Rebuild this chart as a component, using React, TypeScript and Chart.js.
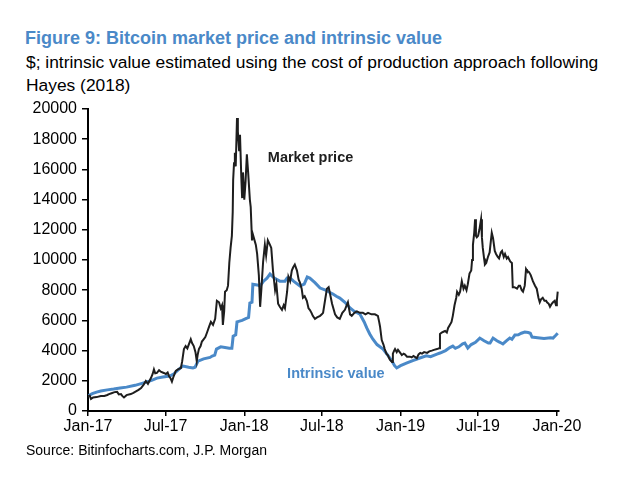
import React, { useEffect, useRef } from "react";
import { Chart, registerables } from "chart.js";

Chart.register(...registerables);

// x values are days since 1 Jan 2017
const tickDays = [0, 181, 365, 546, 730, 911, 1095];
const tickLabels = ["Jan-17", "Jul-17", "Jan-18", "Jul-18", "Jan-19", "Jul-19", "Jan-20"];

const priceDays = [
  0, 4, 7, 12, 20, 30, 38, 45, 49, 55, 62, 68, 72, 77, 80, 84, 90, 100, 106, 112, 118, 124, 130, 135, 140,
  147, 151, 154, 157, 161, 166, 170, 177, 182, 186, 189, 193, 196, 200, 205, 210, 217, 220, 224, 228, 232,
  240, 243, 247, 251, 254, 256, 259, 263, 266, 270, 274, 278, 283, 287, 292, 297, 301, 306, 310, 313, 315,
  318, 320, 324, 327, 330, 333, 336, 338, 339, 341, 343, 345, 348, 350, 353, 355, 358, 360, 362, 365, 368,
  371, 374, 378, 380, 383, 385, 388, 392, 395, 399, 402, 405, 409, 413, 416, 420, 425, 428, 432, 437, 440,
  444, 448, 453, 457, 460, 465, 468, 472, 476, 479, 483, 488, 492, 495, 499, 502, 506, 511, 515, 518, 522,
  525, 530, 535, 542, 546, 549, 554, 558, 562, 565, 570, 577, 582, 588, 594, 600, 604, 607, 612, 616, 622,
  628, 635, 642, 648, 654, 662, 670, 677, 680, 682, 686, 690, 693, 697, 700, 705, 710, 712, 715, 717, 721,
  724, 728, 733, 737, 740, 745, 752, 756, 760, 768, 772, 776, 780, 785, 792, 797, 803, 808, 815, 820, 822,
  826, 830, 834, 838, 841, 845, 849, 852, 856, 860, 862, 866, 869, 873, 877, 880, 884, 887, 891, 895, 897,
  899, 902, 904, 906, 908, 911, 914, 918, 920, 922, 925, 927, 930, 934, 938, 941, 943, 946, 950, 953, 957,
  960, 964, 967, 971, 974, 978, 981, 986, 990, 992, 996, 1002, 1006, 1009, 1013, 1016, 1020, 1023, 1025,
  1030, 1034, 1039, 1044, 1048, 1052, 1055, 1058, 1062, 1066, 1070, 1072, 1076, 1079, 1083, 1086, 1090,
  1093, 1095, 1097,
];
const priceValues = [
  990, 1020, 800, 900, 920, 990, 1000, 1060, 1120, 1180, 1250, 1270, 1100, 1120, 1000, 900, 1050, 1120, 1200,
  1300, 1400, 1520, 1750, 1990, 1800, 2180, 2450, 2750, 2500, 2520, 2700, 2600, 2520, 2450, 2550, 2320, 2150,
  1950, 2300, 2650, 2750, 2850, 3300, 4100, 4300, 4150, 4750, 4500, 4300, 3900, 3300, 3700, 4100, 4300, 4600,
  4750, 4900, 5200, 5600, 5900, 5700, 6100, 7300, 7200, 6800, 7000, 5700, 6600, 7900, 8000, 8300, 9800,
  10800, 11600, 13200, 15300, 16400, 17100, 16200, 19400, 18500, 17200, 18300, 15500, 14100, 15800, 14000,
  15200, 17000, 15800, 14000, 13500, 11300, 11700, 11400, 11000, 10400, 9000, 6900, 8100, 9900, 11000, 10300,
  11300, 11000, 10800, 9300, 8000, 8400, 7100, 6900, 6700, 7000, 6800, 7900, 8900, 8600, 9300, 9500, 9700,
  9300, 8700, 8500, 8100, 7500, 7600, 7300, 6800, 6700, 6500, 6300, 6100, 6200, 6300, 6400, 6500, 7400, 8100,
  8200, 7800, 7100, 6400, 6200, 6100, 6500, 6700, 7000, 7200, 6400, 6300, 6500, 6600, 6500, 6500, 6400, 6500,
  6400, 6400, 6300, 5900, 5600, 4700, 4400, 4100, 3800, 3700, 3400, 3250, 3800, 4000, 4100, 3900, 4050, 3900,
  3700, 3800, 3750, 3600, 3600, 3550, 3650, 3500, 3750, 3850, 3800, 3900, 3850, 3950, 4000, 4050, 4100, 4150,
  5100, 5200, 5250, 5300, 5200, 5500, 5700, 5900, 6300, 7000, 7500, 7900, 7700, 7900, 8600, 8100, 8300, 8000,
  8400, 9100, 9300, 10000, 11000, 11800, 12700, 11600, 11500, 11600, 12000, 12700, 11500, 10800, 10100, 9700,
  9800, 10200, 10500, 11300, 11800, 11450, 10600, 10400, 10200, 10100, 10500, 10600, 10200, 10400, 10100,
  10200, 9900, 9800, 8200, 8200, 8100, 8300, 8300, 8000, 7900, 8300, 9400, 9300, 9200, 9000, 8600, 8300, 8100,
  7500, 7200, 7400, 7500, 7300, 7300, 7200, 7100, 6900, 7100, 7200, 7300, 7000, 7300, 7900,
];

const valueDays = [
  0, 10, 20, 30, 45, 60, 75, 90, 110, 128, 140, 150, 161, 175, 191, 200, 210, 220, 222, 235, 245, 250, 257,
  270, 285, 290, 296, 300, 310, 320, 330, 336, 339, 345, 348, 360, 371, 375, 378, 383, 385, 395, 402, 410,
  418, 425, 435, 448, 460, 465, 472, 480, 495, 505, 512, 518, 530, 542, 555, 565, 572, 580, 588, 600, 612,
  622, 635, 645, 651, 658, 665, 675, 689, 700, 710, 716, 721, 730, 745, 760, 775, 790, 800, 815, 822, 835,
  845, 852, 858, 866, 875, 880, 887, 895, 905, 915, 925, 935, 939, 946, 955, 962, 969, 977, 985, 990, 997,
  1005, 1012, 1020, 1028, 1033, 1037, 1050, 1065, 1080, 1086, 1092, 1097,
];
const valueValues = [
  1000, 1150, 1250, 1320, 1400, 1450, 1520, 1580, 1700, 1850, 1950, 2050, 2180, 2250, 2320, 2450, 2700, 2950,
  2980, 2900, 2850, 2900, 3300, 3450, 3550, 3640, 3700, 4100, 4250, 4200, 4150, 4150, 4950, 5050, 5900, 6000,
  6150, 6200, 7150, 7200, 8400, 8350, 8280, 8600, 8800, 9070, 8800, 8600, 8600, 8800, 8800, 8600, 8280, 8400,
  8870, 8800, 8500, 8140, 8000, 7850, 7750, 7600, 7480, 7200, 6820, 6600, 6420, 5900, 5500, 5100, 4770, 4400,
  4100, 3700, 3310, 3000, 2850, 3000, 3180, 3350, 3510, 3650, 3600, 3770, 3840, 4000, 4200, 4300, 4150, 4250,
  4450, 4500, 4170, 4400, 4550, 4830, 4650, 4500, 4500, 4830, 4650, 4550, 4440, 4650, 4830, 4750, 5030, 5050,
  5150, 5230, 5200, 5150, 4900, 4850, 4800, 4850, 4830, 5000, 5150,
];

const seriesNames = ["Market price", "Intrinsic value"];

const FONT = "'Liberation Sans', Arial, Helvetica, sans-serif";
const BLUE = "#4a89c8";
const BLACK = "#1e1e1e";

const labelPlugin = {
  id: "seriesLabels",
  afterDatasetsDraw(chart: any) {
    const { ctx, scales } = chart;
    const x = scales.x;
    const y = scales.y;
    ctx.save();
    ctx.font = `bold 14.5px ${FONT}`;
    ctx.textAlign = "left";
    ctx.textBaseline = "middle";
    ctx.fillStyle = BLACK;
    ctx.fillText(seriesNames[0], x.getPixelForValue(420), y.getPixelForValue(16750));
    ctx.fillStyle = BLUE;
    ctx.fillText(seriesNames[1], x.getPixelForValue(465), y.getPixelForValue(2450));
    ctx.restore();
  },
};

export default function App() {
  const canvasRef = useRef<HTMLCanvasElement | null>(null);

  useEffect(() => {
    if (!canvasRef.current) return;
    const chart = new Chart(canvasRef.current, {
      type: "line",
      data: {
        datasets: [
          {
            label: seriesNames[0],
            data: priceDays.map((d, i) => ({ x: d, y: priceValues[i] })),
            borderColor: BLACK,
            borderWidth: 2,
            pointRadius: 0,
            tension: 0,
          },
          {
            label: seriesNames[1],
            data: valueDays.map((d, i) => ({ x: d, y: valueValues[i] })),
            borderColor: BLUE,
            borderWidth: 3,
            pointRadius: 0,
            tension: 0,
          },
        ],
      },
      options: {
        animation: false,
        responsive: false,
        maintainAspectRatio: false,
        layout: { padding: { top: 109, right: 60, left: 0, bottom: 0 } },
        plugins: {
          legend: { display: false },
          tooltip: { enabled: false },
          title: { display: false },
        },
        scales: {
          x: {
            type: "linear",
            min: 0,
            max: 1100,
            afterBuildTicks: (scale: any) => {
              scale.ticks = tickDays.map((v) => ({ value: v }));
            },
            afterFit: (scale: any) => {
              scale.height = 69;
            },
            ticks: {
              autoSkip: false,
              maxRotation: 0,
              minRotation: 0,
              padding: 1,
              color: "#000",
              font: { family: FONT, size: 16 },
              callback: (v: any) => {
                const i = tickDays.indexOf(Number(v));
                return i >= 0 ? tickLabels[i] : "";
              },
            },
            grid: {
              drawOnChartArea: false,
              drawTicks: true,
              tickLength: 5,
              color: "#000",
              lineWidth: 1.5,
            },
            border: { color: "#000", width: 2 },
          },
          y: {
            type: "linear",
            min: 0,
            max: 20000,
            afterFit: (scale: any) => {
              scale.width = 88;
            },
            ticks: {
              stepSize: 2000,
              padding: 5,
              color: "#000",
              font: { family: FONT, size: 16 },
              callback: (v: any) => String(v),
            },
            grid: {
              drawOnChartArea: false,
              drawTicks: true,
              tickLength: 6,
              color: "#000",
              lineWidth: 1.5,
            },
            border: { color: "#000", width: 2 },
          },
        },
      },
      plugins: [labelPlugin],
    });
    return () => chart.destroy();
  }, []);

  return (
    <div style={{ position: "absolute", left: 0, top: 0, width: 619, height: 480, background: "#fff", fontFamily: FONT }}>
      <div
        style={{
          position: "absolute",
          left: 25,
          top: 27,
          fontSize: 18,
          lineHeight: "22px",
          fontWeight: "bold",
          color: BLUE,
          whiteSpace: "nowrap",
        }}
      >
        Figure 9: Bitcoin market price and intrinsic value
      </div>
      <div
        style={{
          position: "absolute",
          left: 26,
          top: 51,
          fontSize: 17.4,
          lineHeight: "23px",
          color: "#000",
          whiteSpace: "nowrap",
        }}
      >
        $; intrinsic value estimated using the cost of production approach following
        <br />
        Hayes (2018)
      </div>
      <canvas ref={canvasRef} width={619} height={480} style={{ position: "absolute", left: 0, top: 0 }} />
      <div
        style={{
          position: "absolute",
          left: 26,
          top: 441,
          fontSize: 14,
          lineHeight: "18px",
          color: "#000",
          whiteSpace: "nowrap",
        }}
      >
        Source: Bitinfocharts.com, J.P. Morgan
      </div>
    </div>
  );
}
